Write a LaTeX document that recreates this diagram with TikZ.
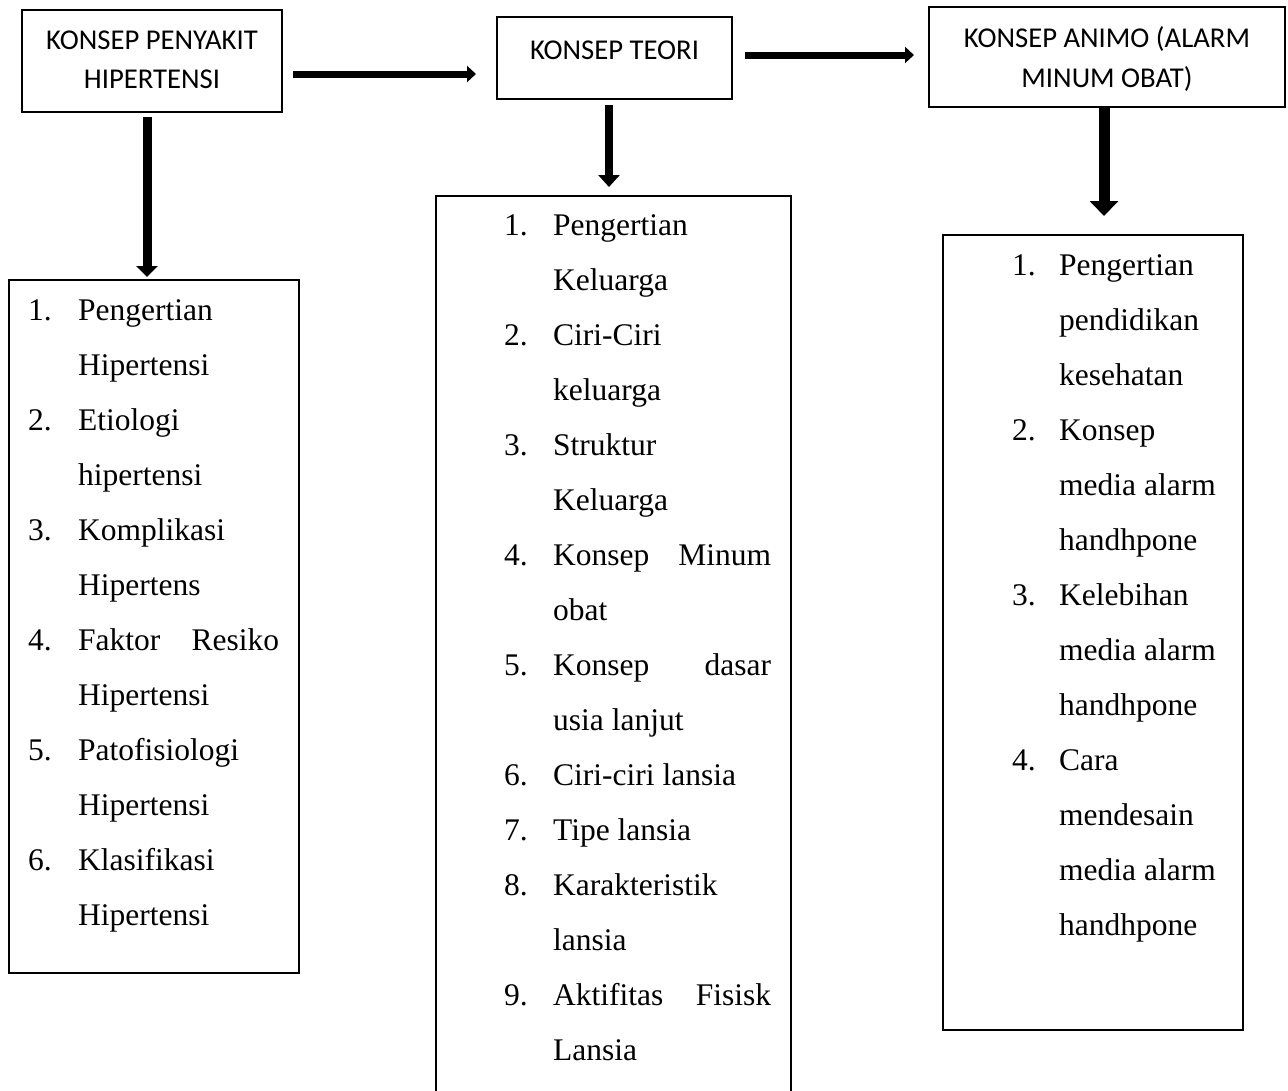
\documentclass[tikz,border=0pt]{standalone}
\usepackage{fontspec}
\setmainfont{Liberation Serif}
\newfontfamily\hdfont{Carlito}
\usetikzlibrary{arrows.meta}
\begin{document}
\begin{tikzpicture}[x=1pt,y=-1pt,
  box/.style={draw, line width=2pt, rectangle, inner sep=0pt},
  hd/.style={font=\hdfont\fontsize{28.7}{34}\selectfont, inner sep=0pt, anchor=base},
  li/.style={font=\fontsize{31.5}{38}\selectfont, inner sep=0pt, anchor=base west},
  conn/.style={line width=#1}]
\fill[white] (0,0) rectangle (1288,1090);
\useasboundingbox (0,0) rectangle (1288,1090);

% header boxes
\node[box, minimum width=260pt, minimum height=102pt] (A) at (152,61) {};
\node[box, minimum width=235pt, minimum height=82pt] (B) at (614.5,58) {};
\node[box, minimum width=356pt, minimum height=100pt] (C) at (1107,57) {};
\node[hd] (a1) at (152,49) {KONSEP PENYAKIT};
\node[hd] (a2) at (152,88) {HIPERTENSI};
\node[hd] (b1) at (614.5,59) {KONSEP TEORI};
\node[hd] (c1) at (1107,47) {KONSEP ANIMO (ALARM};
\node[hd] (c2) at (1107,87) {MINUM OBAT)};

% list boxes
\node[box, minimum width=290pt, minimum height=693pt] (D) at (154,626.5) {};
\node[box, minimum width=355pt, minimum height=904pt] (E) at (613.5,648) {};
\node[box, minimum width=300pt, minimum height=795pt] (F) at (1093,632.5) {};

% arrows
\draw[conn=7pt, -{Triangle[length=9pt,width=16pt]}] ([shift={(10,13)}]A.east) -- ([shift={(-20,16)}]B.west);
\draw[conn=7pt, -{Triangle[length=9pt,width=16pt]}] ([shift={(12,-3)}]B.east) -- ([shift={(-14,-2)}]C.west);
\draw[conn=9pt, -{Triangle[length=11pt,width=21pt]}] ([shift={(-5,4)}]A.south) -- ([shift={(-7,-2)}]D.north);
\draw[conn=8pt, -{Triangle[length=12pt,width=21pt]}] ([shift={(-5.5,5)}]B.south) -- ([shift={(-4.5,-8)}]E.north);
\draw[conn=11pt, -{Triangle[length=15pt,width=28pt]}] ([shift={(-3,0)}]C.south) -- ([shift={(11,-18)}]F.north);

% left list
\node[li] (dn1) at (28,320) {1.};
\node[li] (dt1) at (78,320) {Pengertian};
\node[li] (dt1b) at (78,375) {Hipertensi};
\node[li] (dn2) at (28,430) {2.};
\node[li] (dt2) at (78,430) {Etiologi};
\node[li] (dt2b) at (78,485) {hipertensi};
\node[li] (dn3) at (28,540) {3.};
\node[li] (dt3) at (78,540) {Komplikasi};
\node[li] (dt3b) at (78,595) {Hipertens};
\node[li] (dn4) at (28,650) {4.};
\node[li] (dt4) at (78,650) {\makebox[201pt][s]{Faktor Resiko}};
\node[li] (dt4b) at (78,705) {Hipertensi};
\node[li] (dn5) at (28,760) {5.};
\node[li] (dt5) at (78,760) {Patofisiologi};
\node[li] (dt5b) at (78,815) {Hipertensi};
\node[li] (dn6) at (28,870) {6.};
\node[li] (dt6) at (78,870) {Klasifikasi};
\node[li] (dt6b) at (78,925) {Hipertensi};

% middle list
\node[li] (en1) at (504,235) {1.};
\node[li] (et1) at (553,235) {Pengertian};
\node[li] (et1b) at (553,290) {Keluarga};
\node[li] (en2) at (504,345) {2.};
\node[li] (et2) at (553,345) {Ciri-Ciri};
\node[li] (et2b) at (553,400) {keluarga};
\node[li] (en3) at (504,455) {3.};
\node[li] (et3) at (553,455) {Struktur};
\node[li] (et3b) at (553,510) {Keluarga};
\node[li] (en4) at (504,565) {4.};
\node[li] (et4) at (553,565) {\makebox[218pt][s]{Konsep Minum}};
\node[li] (et4b) at (553,620) {obat};
\node[li] (en5) at (504,675) {5.};
\node[li] (et5) at (553,675) {\makebox[218pt][s]{Konsep dasar}};
\node[li] (et5b) at (553,730) {usia lanjut};
\node[li] (en6) at (504,785) {6.};
\node[li] (et6) at (553,785) {Ciri-ciri lansia};
\node[li] (en7) at (504,840) {7.};
\node[li] (et7) at (553,840) {Tipe lansia};
\node[li] (en8) at (504,895) {8.};
\node[li] (et8) at (553,895) {Karakteristik};
\node[li] (et8b) at (553,950) {lansia};
\node[li] (en9) at (504,1005) {9.};
\node[li] (et9) at (553,1005) {\makebox[218pt][s]{Aktifitas Fisisk}};
\node[li] (et9b) at (553,1060) {Lansia};

% right list
\node[li] (fn1) at (1012,275) {1.};
\node[li] (ft1) at (1059,275) {Pengertian};
\node[li] (ft1b) at (1059,330) {pendidikan};
\node[li] (ft1c) at (1059,385) {kesehatan};
\node[li] (fn2) at (1012,440) {2.};
\node[li] (ft2) at (1059,440) {Konsep};
\node[li] (ft2b) at (1059,495) {media alarm};
\node[li] (ft2c) at (1059,550) {handhpone};
\node[li] (fn3) at (1012,605) {3.};
\node[li] (ft3) at (1059,605) {Kelebihan};
\node[li] (ft3b) at (1059,660) {media alarm};
\node[li] (ft3c) at (1059,715) {handhpone};
\node[li] (fn4) at (1012,770) {4.};
\node[li] (ft4) at (1059,770) {Cara};
\node[li] (ft4b) at (1059,825) {mendesain};
\node[li] (ft4c) at (1059,880) {media alarm};
\node[li] (ft4d) at (1059,935) {handhpone};
\end{tikzpicture}
\end{document}
